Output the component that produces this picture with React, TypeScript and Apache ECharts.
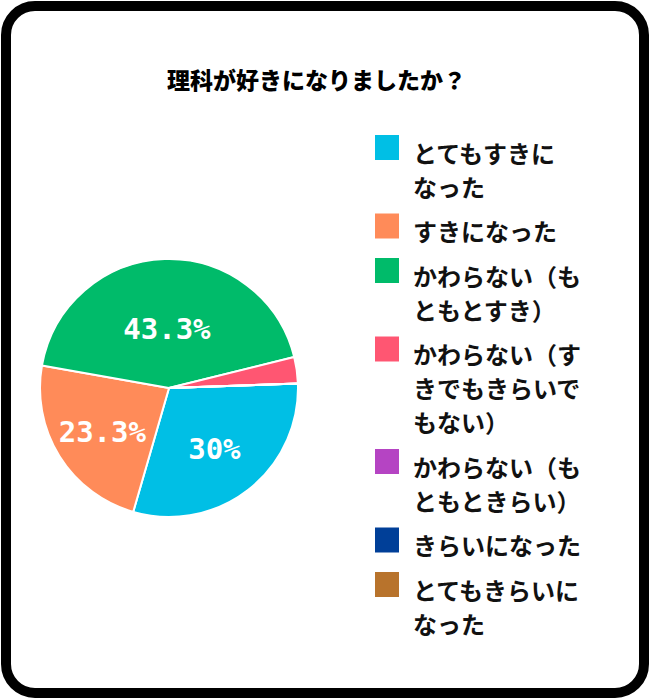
import React, { useEffect, useRef } from 'react';
import * as echarts from 'echarts';

const titleText = '理科が好きになりましたか？';
const categories = [
  'とてもすきになった',
  'すきになった',
  'かわらない（もともとすき）',
  'かわらない（すきでもきらいでもない）',
  'かわらない（もともときらい）',
  'きらいになった',
  'とてもきらいになった',
];
const percents = [30, 23.3, 43.3, 3.3, 0, 0, 0];
const colors = ['#00BFE5', '#FF8B59', '#00BB6A', '#FF5672', '#B544C3', '#003F98', '#B8732C'];

const CX = 169;
const CY = 388;
const R = 129;
const START = 2;
const LH = 34;
const JP = "'Noto Sans CJK JP', sans-serif";

// break legend names every 7 chars, never starting a line with small kana / closing bracket
const wrap = (s: string, n = 7) => {
  const out: string[] = [];
  let rest = s;
  while (rest.length > n) {
    let cut = n;
    while (cut > 1 && 'っゃゅょぁぃぅぇぉ）、。'.includes(rest[cut])) cut--;
    out.push(rest.slice(0, cut));
    rest = rest.slice(cut);
  }
  out.push(rest);
  return out;
};

const App = () => {
  const chartRef = useRef<HTMLDivElement>(null);

  useEffect(() => {
    if (!chartRef.current) return;
    const myChart = echarts.init(chartRef.current, null, { renderer: 'svg' });
    const total = percents.reduce((a, b) => a + b, 0);

    const rich: Record<string, any> = {
      g: { width: 14, lineHeight: LH, fontSize: 24 },
      ind: { width: 38, lineHeight: LH, fontSize: 24 },
      t: { fontSize: 24, fontWeight: 'bold', fontFamily: JP, color: '#111', lineHeight: LH },
    };
    colors.forEach((c, i) => {
      rich['c' + i] = { width: 24, height: 25, backgroundColor: c, verticalAlign: 'top', lineHeight: LH };
    });

    const option: echarts.EChartsOption = {
      animation: false,
      graphic: [
        {
          type: 'rect',
          shape: { x: 6, y: 6, width: 638, height: 687, r: 29 },
          style: { fill: 'none', stroke: '#000', lineWidth: 10 },
          silent: true,
        },
      ],
      title: {
        text: titleText,
        left: 167,
        top: 67,
        padding: 0,
        textStyle: { fontSize: 23, fontWeight: 900, fontFamily: JP, color: '#000' },
      },
      legend: {
        orient: 'vertical',
        left: 370,
        top: 135,
        padding: 0,
        itemGap: 10.5,
        icon: 'none',
        itemWidth: 0,
        itemHeight: 0,
        textGap: 0,
        selectedMode: false,
        data: categories,
        textStyle: { lineHeight: LH, fontSize: 24, rich },
        formatter: (name: string) => {
          const i = categories.indexOf(name);
          return wrap(name)
            .map((l, k) => (k === 0 ? `{c${i}| }{g| }` : '{ind| }') + `{t|${l}}`)
            .join('\n');
        },
      },
      series: [
        {
          type: 'pie',
          center: [CX, CY],
          radius: R,
          startAngle: START,
          minShowLabelAngle: 15,
          data: categories.map((name, i) => ({ name, value: percents[i], itemStyle: { color: colors[i] } })),
          itemStyle: { borderColor: '#fff', borderWidth: 2 },
          label: {
            position: 'inside',
            formatter: (p: any) => `${p.value}%`,
            color: '#fff',
            fontSize: 29,
            fontWeight: 'bold',
            fontFamily: "'DejaVu Sans Mono', monospace",
          },
          labelLine: { show: false },
          emphasis: { disabled: true },
          // labels sit on the centroid of each sector
          labelLayout: (p: any) => {
            let start = START;
            for (let i = 0; i < p.dataIndex; i++) start -= (percents[i] / total) * 360;
            const span = (percents[p.dataIndex] / total) * 360;
            const mid = ((start - span / 2) * Math.PI) / 180;
            const th = (span * Math.PI) / 180;
            const d = th > 0 ? (4 * R * Math.sin(th / 2)) / (3 * th) : 0;
            return { x: CX + d * Math.cos(mid), y: CY - d * Math.sin(mid) + 3, align: 'center', verticalAlign: 'middle' };
          },
        },
      ],
    };

    myChart.setOption(option);
    return () => {
      myChart.dispose();
    };
  }, []);

  return <div ref={chartRef} style={{ position: 'absolute', left: 0, top: 0, width: '650px', height: '699px' }} />;
};

export default App;
